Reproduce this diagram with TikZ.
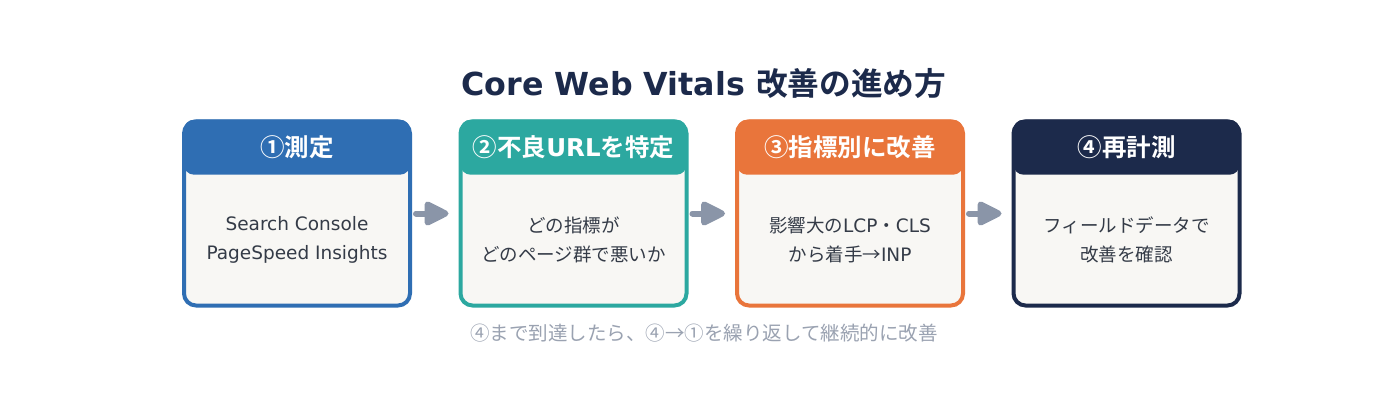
\documentclass[tikz,border=0pt]{standalone}
\usepackage{fontspec}
\setmainfont{DejaVu Sans}
\newfontfamily\jp{Noto Sans CJK JP}[BoldFont={Noto Sans CJK JP Bold}]
\usetikzlibrary{arrows.meta}
\definecolor{stepblue}{HTML}{2F6EB3}
\definecolor{stepteal}{HTML}{2CA8A0}
\definecolor{steporange}{HTML}{E9753B}
\definecolor{stepnavy}{HTML}{1C2A4B}
\definecolor{cardfill}{HTML}{F8F7F4}
\definecolor{bodyink}{HTML}{343B47}
\definecolor{arrowgray}{HTML}{8A95A8}
\definecolor{noteink}{HTML}{9AA2B1}

\begin{document}
\begin{tikzpicture}[x=1pt,y=-1pt,
		card/.style={rectangle,rounded corners=12pt,line width=4pt,fill=cardfill,minimum width=226pt,minimum height=184pt,inner sep=0pt},
		head/.style={rectangle,rounded corners=10pt,minimum width=226pt,minimum height=55pt,inner sep=0pt,text=white,font=\fontsize{24.5}{28}\selectfont\bfseries},
		body/.style={align=center,text=bodyink,font=\fontsize{18.5}{29}\selectfont},
		flow/.style={arrowgray,line width=6pt,line cap=round,-{Triangle[length=28pt,width=26pt,round]},shorten <=4pt,shorten >=10pt}]
		\useasboundingbox[fill=white] (0,0) rectangle (1380,406);
		\node[text=stepnavy,font=\fontsize{31.7}{36}\selectfont\bfseries] (title) at (704,84) {Core Web Vitals {\jp 改善の進め方}};
		% cards
		\node[card,draw=stepblue] (b1) at (297,213.5) {};
		\node[card,draw=stepteal] (b2) at (573.5,213.5) {};
		\node[card,draw=steporange] (b3) at (850,213.5) {};
		\node[card,draw=stepnavy] (b4) at (1126.5,213.5) {};
		\node[head,fill=stepblue,anchor=north] (h1) at (b1.north) {{\jp ①測定}};
		\node[head,fill=stepteal,anchor=north] (h2) at (b2.north) {{\jp ②不良}URL{\jp を特定}};
		\node[head,fill=steporange,anchor=north] (h3) at (b3.north) {{\jp ③指標別に改善}};
		\node[head,fill=stepnavy,anchor=north] (h4) at (b4.north) {{\jp ④再計測}};
		\node[body] (t1) at (297,240) {Search Console\\PageSpeed Insights};
		\node[body] (t2) at (573.5,240) {{\jp どの指標が}\\{\jp どのページ群で悪いか}};
		\node[body] (t3) at (850,240) {{\jp 影響大の}LCP{\jp ・}CLS\\{\jp から着手→}INP};
		\node[body] (t4) at (1126.5,240) {{\jp フィールドデータで}\\{\jp 改善を確認}};
		% arrows
		\draw[flow] (b1.east) -- (b2.west);
		\draw[flow] (b2.east) -- (b3.west);
		\draw[flow] (b3.east) -- (b4.west);
		\node[text=noteink,font=\fontsize{19.5}{23}\selectfont\jp] (note) at (704,333) {④まで到達したら、④→①を繰り返して継続的に改善};
\end{tikzpicture}
\end{document}
